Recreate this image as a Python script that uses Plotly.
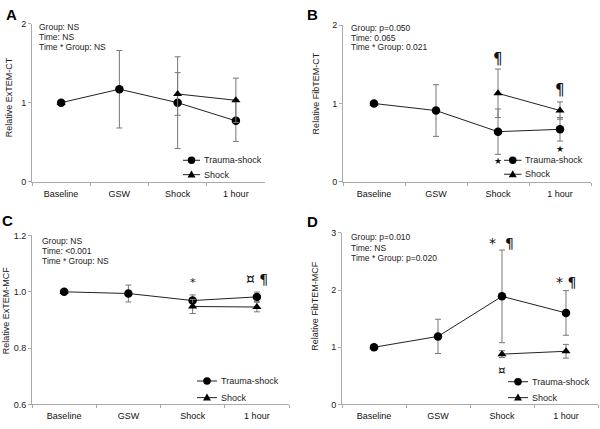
import plotly.graph_objects as go

W, H = 600, 429
FONT = "Liberation Sans, Arial, Helvetica, sans-serif"

categories = ["Baseline", "GSW", "Shock", "1 hour"]
series_names = ["Trauma-shock", "Shock"]

# Panel A: Relative ExTEM-CT
a_trauma = [1.0, 1.17, 1.0, 0.77]
a_trauma_err = [0, 0.49, 0.58, 0.26]
a_shock = [1.0, None, 1.11, 1.03]
a_shock_err = [0, 0, 0.27, 0.28]

# Panel B: Relative FibTEM-CT
b_trauma = [1.0, 0.91, 0.64, 0.67]
b_trauma_err = [0, 0.33, 0.29, 0.15]
b_shock = [1.0, None, 1.13, 0.91]
b_shock_err = [0, 0, 0.31, 0.11]

# Panel C: Relative ExTEM-MCF
c_trauma = [1.0, 0.994, 0.969, 0.982]
c_trauma_err = [0, 0.03, 0.02, 0.017]
c_shock = [1.0, None, 0.948, 0.946]
c_shock_err = [0, 0, 0.025, 0.017]

# Panel D: Relative FibTEM-MCF
d_trauma = [1.0, 1.19, 1.89, 1.60]
d_trauma_err = [0, 0.30, 0.81, 0.39]
d_shock = [1.0, None, 0.88, 0.93]
d_shock_err = [0, 0, 0.06, 0.12]

panel_letters = ["A", "B", "C", "D"]
y_titles = ["Relative ExTEM-CT", "Relative FibTEM-CT", "Relative ExTEM-MCF", "Relative FibTEM-MCF"]
stats = [
    ["Group: NS", "Time: NS", "Time * Group: NS"],
    ["Group: p=0.050", "Time: 0.065", "Time * Group: 0.021"],
    ["Group: NS", "Time: <0.001", "Time * Group: NS"],
    ["Group: p=0.010", "Time: NS", "Time * Group: p=0.020"],
]
y_ranges = [[0, 2], [0, 2], [0.6, 1.2], [0, 3]]
y_ticks = [[0, 1, 2], [0, 1, 2], [0.6, 0.8, 1.0, 1.2], [0, 1, 2, 3]]
y_fmt = ["", "", ".1f", ""]

# significance marks: (panel, category, y value, text, size)
marks = [
    (1, "Shock", 1.57, "¶", 15),
    (1, "1 hour", 1.17, "¶", 15),
    (1, "Shock", 0.27, "★", 9),
    (1, "1 hour", 0.42, "★", 9),
    (2, "Shock", 1.033, "*", 11),
    (2, "1 hour", 1.044, "¤ ¶", 14),
    (3, "Shock", 2.83, "*  ¶", 14),
    (3, "1 hour", 2.14, "* ¶", 14),
    (3, "Shock", 0.61, "¤", 12),
]

def px(x):
    return x / W

def py(y):
    return 1 - y / H

# plot areas in pixels: (x0, x1, ytop, ybottom)
areas = [(32, 265, 19, 181), (343, 591, 20.7, 181), (32, 289, 236, 409), (342, 598, 233.3, 409)]
letter_pos = [(11, 10), (313, 10), (7, 221), (312, 222)]
ytitle_pos = [(8.5, 95), (315.5, 91), (5.5, 313), (315, 308)]
stats_pos = [(37, [23, 33, 42.5]), (349, [24, 33.5, 43]), (40, [241.7, 251.7, 261.7]), (349, [237.7, 248.3, 259])]
# legend: (line x0, line x1, text x, row1 y, row2 y)
legend_geom = [(183, 200, 202, 159, 173.7), (504, 521.5, 523, 159, 173.3),
               (197, 217, 218.5, 385, 402), (508, 528, 529.5, 385.7, 402)]

series = [
    (a_trauma, a_trauma_err, a_shock, a_shock_err),
    (b_trauma, b_trauma_err, b_shock, b_shock_err),
    (c_trauma, c_trauma_err, c_shock, c_shock_err),
    (d_trauma, d_trauma_err, d_shock, d_shock_err),
]

fig = go.Figure()
layout = dict(
    width=W, height=H, margin=dict(l=0, r=0, t=0, b=0),
    paper_bgcolor="white", plot_bgcolor="white",
    font=dict(family=FONT, size=9, color="#222"),
    annotations=[], shapes=[], showlegend=False,
)

for i, (tr, tre, sh, she) in enumerate(series):
    k = "" if i == 0 else str(i + 1)
    xa, ya = "x" + k, "y" + k
    err_style = dict(type="data", color="#777", thickness=1, width=3)
    fig.add_trace(go.Scatter(
        x=categories, y=tr, name=series_names[0], mode="lines+markers",
        xaxis=xa, yaxis=ya,
        line=dict(color="#222", width=1),
        marker=dict(symbol="circle", size=8.5, color="black"),
        error_y=dict(array=tre, **err_style),
    ))
    fig.add_trace(go.Scatter(
        x=categories, y=sh, name=series_names[1], mode="lines+markers",
        xaxis=xa, yaxis=ya, connectgaps=False,
        line=dict(color="#222", width=1),
        marker=dict(symbol="triangle-up", size=8, color="black"),
        error_y=dict(array=she, **err_style),
    ))
    x0, x1, yt, yb = areas[i]
    layout["xaxis" + k] = dict(
        domain=[px(x0), px(x1)], anchor=ya, type="category",
        categoryorder="array", categoryarray=categories,
        range=[-0.5, 3.5], showline=True, linecolor="#aaa", linewidth=1,
        ticks="outside", ticklen=3, tickcolor="#aaa", tickson="boundaries",
        ticklabelstandoff=3,
        showgrid=False, zeroline=False, tickfont=dict(size=9, color="#111"),
    )
    layout["yaxis" + k] = dict(
        domain=[py(yb), py(yt)], anchor=xa, range=y_ranges[i],
        tickvals=y_ticks[i], tickformat=y_fmt[i],
        showline=True, linecolor="#aaa", linewidth=1,
        ticks="outside", ticklen=3, tickcolor="#aaa",
        showgrid=False, zeroline=False, tickfont=dict(size=9, color="#222"),
    )
    # custom legend
    lx0, lx1, ltx, r1, r2 = legend_geom[i]
    cx = (lx0 + lx1) / 2
    for row_y, name, sym in [(r1, series_names[0], "circle"), (r2, series_names[1], "triangle")]:
        layout["shapes"].append(dict(
            type="line", xref="paper", yref="paper",
            x0=px(lx0), x1=px(lx1), y0=py(row_y), y1=py(row_y),
            line=dict(color="#222", width=1)))
        if sym == "circle":
            layout["shapes"].append(dict(
                type="circle", xref="paper", yref="paper",
                x0=px(cx - 3.8), x1=px(cx + 3.8), y0=py(row_y + 3.8), y1=py(row_y - 3.8),
                fillcolor="black", line=dict(color="black", width=0)))
        else:
            path = "M %f,%f L %f,%f L %f,%f Z" % (
                px(cx), py(row_y - 4.2), px(cx - 4), py(row_y + 3), px(cx + 4), py(row_y + 3))
            layout["shapes"].append(dict(
                type="path", xref="paper", yref="paper", path=path,
                fillcolor="black", line=dict(color="black", width=0)))
        layout["annotations"].append(dict(
            text=name, x=px(ltx), y=py(row_y), xref="paper", yref="paper",
            showarrow=False, font=dict(size=9, color="#222", family=FONT),
            xanchor="left", yanchor="middle"))
    # panel letter
    lx, ly = letter_pos[i]
    layout["annotations"].append(dict(
        text="<b>%s</b>" % panel_letters[i], x=px(lx), y=py(ly), xref="paper", yref="paper",
        showarrow=False, font=dict(size=15, color="black", family=FONT),
        xanchor="center", yanchor="middle"))
    # y title
    tx, ty = ytitle_pos[i]
    layout["annotations"].append(dict(
        text=y_titles[i], x=px(tx), y=py(ty), xref="paper", yref="paper",
        showarrow=False, textangle=-90, font=dict(size=9, color="#222", family=FONT),
        xanchor="center", yanchor="middle"))
    # stats
    sx, sys_ = stats_pos[i]
    for line, yy in zip(stats[i], sys_):
        layout["annotations"].append(dict(
            text=line, x=px(sx), y=py(yy), xref="paper", yref="paper",
            showarrow=False, font=dict(size=8.5, color="#222", family=FONT),
            xanchor="left", yanchor="middle"))

for (p, cat, yv, txt, sz) in marks:
    k = "" if p == 0 else str(p + 1)
    layout["annotations"].append(dict(
        text=txt, x=cat, y=yv, xref="x" + k, yref="y" + k,
        showarrow=False, font=dict(size=sz, color="#111", family="DejaVu Sans, " + FONT),
        xanchor="center", yanchor="middle"))

fig.update_layout(**layout)
# page body has a default 8px margin; remove it so the 600x429 figure fills the window exactly
fig.write_html("out.html", config={"displayModeBar": False},
               post_script="document.body.style.margin='0';")
